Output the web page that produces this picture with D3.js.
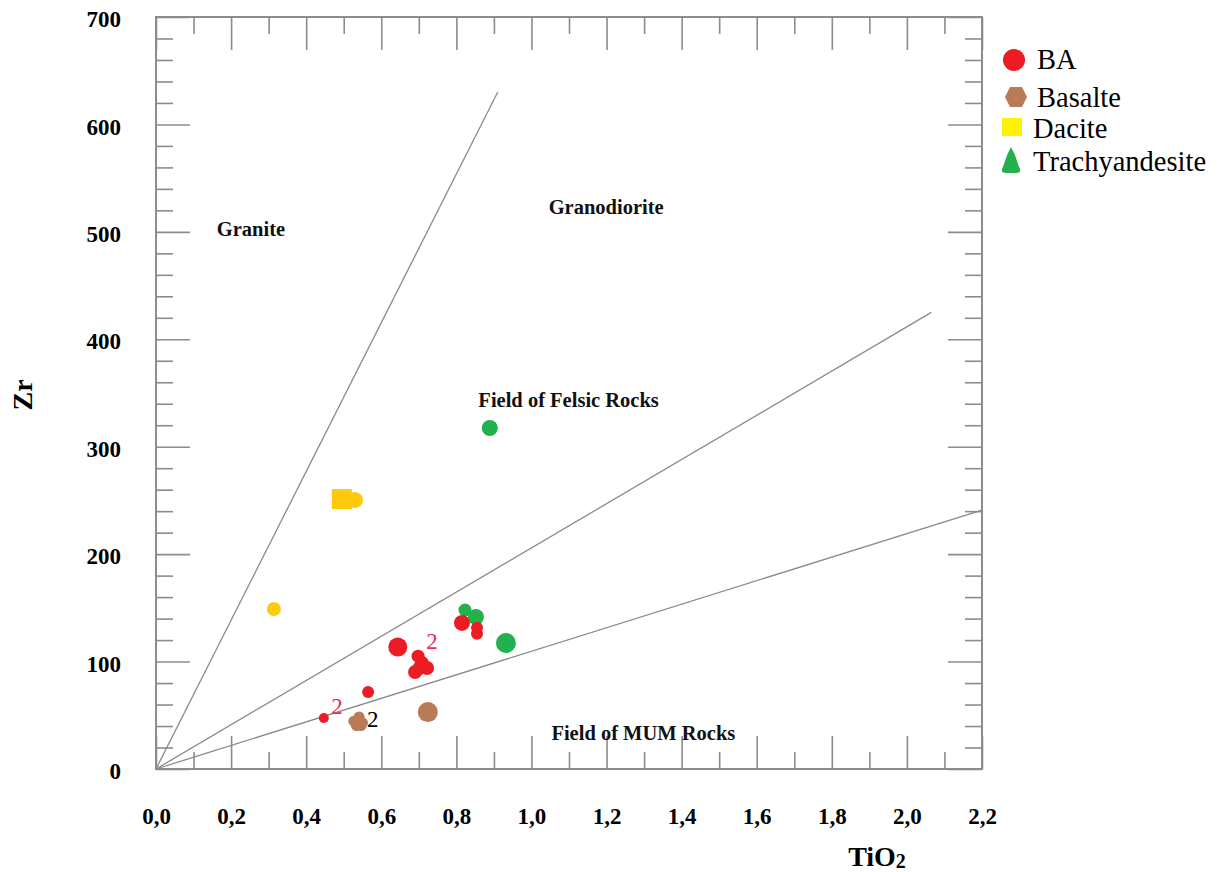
<!DOCTYPE html>
<html><head><meta charset="utf-8">
<script src="https://cdn.jsdelivr.net/npm/d3@7"></script>
<style>body{margin:0;background:#fff}svg{display:block}</style>
</head><body>
<svg id="chart" width="1218" height="872"></svg>
<script>
// ---- data ----
const xMajorTicks = [0, 0.2, 0.4, 0.6, 0.8, 1.0, 1.2, 1.4, 1.6, 1.8, 2.0, 2.2];
const xMinorTicks = [0.1, 0.3, 0.5, 0.7, 0.9, 1.1, 1.3, 1.5, 1.7, 1.9, 2.1];
const xTickLabels = ["0,0","0,2","0,4","0,6","0,8","1,0","1,2","1,4","1,6","1,8","2,0","2,2"];
const yMajorTicks = [0, 100, 200, 300, 400, 500, 600, 700];
const yMinorTicks = [20,40,60,80,120,140,160,180,220,240,260,280,320,340,360,380,420,440,460,480,520,540,560,580,620,640,660,680];
const yTickLabels = ["0","100","200","300","400","500","600","700"];

const fieldLineTiO2 = [0.91, 2.065, 2.2];
const fieldLineZr   = [630, 425, 241];

const fieldNames = ["Granite", "Granodiorite", "Field of Felsic Rocks", "Field of MUM Rocks"];
const fieldTiO2  = [0.253, 1.199, 1.099, 1.298];
const fieldZr    = [496, 517, 337, 27];

const baTiO2 = [0.644, 0.447, 0.565, 0.698, 0.690, 0.722, 0.708, 0.702, 0.815, 0.855, 0.855];
const baZr   = [113.6, 47.5, 71.7, 105, 90.3, 94, 98.7, 94, 136, 131.5, 126];

const basalteTiO2 = [0.724, 0.527, 0.541, 0.550, 0.534, 0.546];
const basalteZr   = [53, 44.5, 48.5, 43, 40.5, 40.5];

const daciteTiO2 = [0.495, 0.530, 0.314];
const daciteZr   = [251.3, 250.4, 149];

const trachyTiO2 = [0.889, 0.823, 0.852, 0.932];
const trachyZr   = [317.4, 148, 141.5, 117.3];

const countLabelText = ["2", "2", "2"];
const countLabelTiO2 = [0.735, 0.482, 0.577];
const countLabelZr   = [112, 51, 39];

const legendNames = ["BA", "Basalte", "Dacite", "Trachyandesite"];

// ---- styles (kept separate from data) ----
const baR = [9.5, 5, 6, 6.5, 7, 7, 7, 7, 8, 6, 6];
const basalteR = [10, 5.5, 5.5, 5.5, 5.5, 5.5];
const daciteShape = ["square", "circle", "circle"];
const daciteR = [10, 8, 7];
const trachyR = [8, 6.5, 8, 10];
const countLabelColor = ["#ee2a55", "#ee2a55", "#000"];

const RED = "#ed1c24", BROWN = "#b97a57", GOLD = "#ffc90e", YELLOW = "#fff200", GREEN = "#22b14c";
const AXIS = "#8c8c8c";
const SERIF = "'Liberation Serif','Times New Roman',serif";

const svg = d3.select("#chart");
const x = d3.scaleLinear().domain([0, 2.2]).range([156, 982]);
const y = d3.scaleLinear().domain([0, 700]).range([769, 17]);

// ticks (inward on all four sides)
function tickAxis(gen, transform, values, size) {
  const g = svg.append("g").attr("transform", transform)
    .call(gen.tickValues(values).tickSize(size).tickFormat(""));
  g.select(".domain").remove();
  g.selectAll("line").attr("stroke", AXIS).attr("stroke-width", 1.6);
}
tickAxis(d3.axisTop(x), `translate(0,${y(0)})`, xMajorTicks, 33);
tickAxis(d3.axisTop(x), `translate(0,${y(0)})`, xMinorTicks, 17);
tickAxis(d3.axisBottom(x), `translate(0,${y(700)})`, xMajorTicks, 33);
tickAxis(d3.axisBottom(x), `translate(0,${y(700)})`, xMinorTicks, 17);
tickAxis(d3.axisRight(y), `translate(${x(0)},0)`, yMajorTicks, 34);
tickAxis(d3.axisRight(y), `translate(${x(0)},0)`, yMinorTicks, 17);
tickAxis(d3.axisLeft(y), `translate(${x(2.2)},0)`, yMajorTicks, 34);
tickAxis(d3.axisLeft(y), `translate(${x(2.2)},0)`, yMinorTicks, 17);

// frame
svg.append("rect")
  .attr("x", x(0)).attr("y", y(700))
  .attr("width", x(2.2) - x(0)).attr("height", y(0) - y(700))
  .attr("fill", "none").attr("stroke", AXIS).attr("stroke-width", 2);

// tick labels
const xl = svg.append("g").attr("transform", `translate(0,${y(0)})`)
  .call(d3.axisBottom(x).tickValues(xMajorTicks).tickSize(0).tickPadding(39)
    .tickFormat((d, i) => xTickLabels[i]));
xl.select(".domain").remove();
xl.selectAll("text").attr("font-family", SERIF).attr("font-size", 23)
  .attr("font-weight", "bold").attr("fill", "#000");

const yl = svg.append("g").attr("transform", `translate(${x(0)},0)`)
  .call(d3.axisLeft(y).tickValues(yMajorTicks).tickSize(0).tickPadding(35)
    .tickFormat((d, i) => yTickLabels[i]));
yl.select(".domain").remove();
yl.selectAll("text").attr("font-family", SERIF).attr("font-size", 23)
  .attr("font-weight", "bold").attr("fill", "#000").attr("dy", "0.42em");

// axis titles
const xt = svg.append("text").attr("x", 877).attr("y", 866)
  .attr("text-anchor", "middle").attr("font-family", SERIF)
  .attr("font-size", 28).attr("font-weight", "bold");
xt.append("tspan").text("TiO");
xt.append("tspan").attr("font-size", 20).attr("dy", 2).text("2");

svg.append("text").attr("transform", "translate(32,395) rotate(-90)")
  .attr("text-anchor", "middle").attr("font-family", SERIF)
  .attr("font-size", 28).attr("font-weight", "bold").text("Zr");

// field boundary lines
svg.append("g").selectAll("line").data(fieldLineTiO2).join("line")
  .attr("x1", x(0)).attr("y1", y(0))
  .attr("x2", d => x(d)).attr("y2", (d, i) => y(fieldLineZr[i]))
  .attr("stroke", "#8a8a8a").attr("stroke-width", 1.3);

// field names
svg.append("g").selectAll("text").data(fieldNames).join("text")
  .attr("x", (d, i) => x(fieldTiO2[i])).attr("y", (d, i) => y(fieldZr[i]))
  .attr("text-anchor", "middle").attr("font-family", SERIF)
  .attr("font-size", 20.5).attr("font-weight", "bold").attr("fill", "#111")
  .text(d => d);

// points
svg.append("g").selectAll("circle").data(trachyTiO2).join("circle")
  .attr("cx", d => x(d)).attr("cy", (d, i) => y(trachyZr[i]))
  .attr("r", (d, i) => trachyR[i]).attr("fill", GREEN);

svg.append("g").selectAll("circle").data(baTiO2).join("circle")
  .attr("cx", d => x(d)).attr("cy", (d, i) => y(baZr[i]))
  .attr("r", (d, i) => baR[i]).attr("fill", RED);

svg.append("g").selectAll("circle").data(basalteTiO2).join("circle")
  .attr("cx", d => x(d)).attr("cy", (d, i) => y(basalteZr[i]))
  .attr("r", (d, i) => basalteR[i]).attr("fill", BROWN);

svg.append("g").selectAll("path").data(daciteTiO2).join("path")
  .attr("transform", (d, i) => `translate(${x(d)},${y(daciteZr[i])})`)
  .attr("d", (d, i) => {
    const r = daciteR[i];
    return daciteShape[i] === "square"
      ? `M${-r},${-r}H${r}V${r}H${-r}Z`
      : d3.symbol(d3.symbolCircle, Math.PI * r * r)();
  })
  .attr("fill", GOLD);

// count labels
svg.append("g").selectAll("text").data(countLabelText).join("text")
  .attr("x", (d, i) => x(countLabelTiO2[i])).attr("y", (d, i) => y(countLabelZr[i]))
  .attr("text-anchor", "middle").attr("font-family", SERIF)
  .attr("font-size", 23).attr("fill", (d, i) => countLabelColor[i])
  .text(d => d);

// legend
const legendY = [60, 97, 127, 160];
const legendTextX = [1037, 1037, 1033, 1033];
const legendTextY = [69, 107, 138, 171];
const lg = svg.append("g");
lg.append("circle").attr("cx", 1014).attr("cy", legendY[0]).attr("r", 11).attr("fill", RED);
lg.append("path").attr("transform", `translate(1016,${legendY[1]})`)
  .attr("d", "M-6,-10H6L11,0L6,10H-6L-11,0Z").attr("fill", BROWN);
lg.append("rect").attr("x", 1002).attr("y", legendY[2] - 9).attr("width", 20).attr("height", 18).attr("fill", YELLOW);
lg.append("path").attr("transform", `translate(1011,${legendY[3]})`)
  .attr("d", "M0,-13 L4,-5 L5,-2 L7,4 L9,9 Q10,13 5,13 H-5 Q-10,13 -9,9 L-7,4 L-5,-2 L-4,-5 Z")
  .attr("fill", GREEN);
lg.selectAll("text").data(legendNames).join("text")
  .attr("x", (d, i) => legendTextX[i]).attr("y", (d, i) => legendTextY[i])
  .attr("font-family", SERIF).attr("font-size", 28.5).attr("fill", "#000")
  .text(d => d);
</script>
</body></html>
